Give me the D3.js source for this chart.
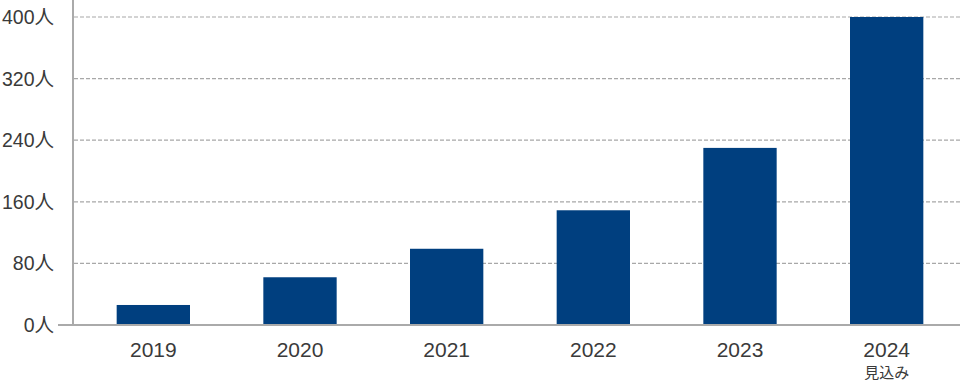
<!DOCTYPE html>
<html>
<head>
<meta charset="utf-8">
<script src="https://cdn.jsdelivr.net/npm/d3@7"></script>
<style>
  body { margin: 0; background: #fff; }
  svg { display: block; font-family: "Liberation Sans", Arial, "Noto Sans CJK JP", sans-serif; }
</style>
</head>
<body>
<svg id="svg" width="960" height="382"></svg>
<script>
const years = ['2019', '2020', '2021', '2022', '2023', '2024'];
const people = [26, 62, 99, 149, 230, 400];
const subLabels = ['', '', '', '', '', '見込み'];
const yTicks = [0, 80, 160, 240, 320, 400];

const svg = d3.select('#svg');
const plot = {left: 73, right: 960, top: 17, bottom: 325};

const yScale = d3.scaleLinear()
                .domain([0, 400])
                .range([plot.bottom, plot.top]);
const xScale = d3.scaleBand()
                .domain(years)
                .range([80, 960])
                .paddingInner(0.5)
                .paddingOuter(0.25);

// grid lines
svg.append('g')
    .selectAll('line')
    .data(yTicks.filter(d => d > 0))
    .enter()
    .append('line')
    .attr('x1', plot.left + 1)
    .attr('x2', plot.right)
    .attr('y1', d => yScale(d))
    .attr('y2', d => yScale(d))
    .attr('stroke', '#a8a8a8')
    .attr('stroke-width', 1.2)
    .attr('stroke-dasharray', '4,2');

// bars
svg.append('g')
    .selectAll('rect')
    .data(years)
    .enter()
    .append('rect')
    .attr('x', d => xScale(d))
    .attr('width', xScale.bandwidth())
    .attr('y', (d, i) => yScale(people[i]))
    .attr('height', (d, i) => plot.bottom - yScale(people[i]))
    .attr('fill', '#003f7f');

// axes lines
svg.append('line')
    .attr('x1', plot.left).attr('x2', plot.left)
    .attr('y1', 0).attr('y2', plot.bottom)
    .attr('stroke', '#aaa').attr('stroke-width', 2);
svg.append('line')
    .attr('x1', 58).attr('x2', plot.right)
    .attr('y1', plot.bottom).attr('y2', plot.bottom)
    .attr('stroke', '#aaa').attr('stroke-width', 2);

// y labels
svg.append('g')
    .selectAll('text')
    .data(yTicks)
    .enter()
    .append('text')
    .attr('x', 54)
    .attr('y', d => yScale(d) + 7)
    .attr('text-anchor', 'end')
    .attr('font-size', 19.5)
    .attr('fill', '#3a3a3a')
    .text(d => d + '人');

// x labels
const xl = svg.append('g');
xl.selectAll('.year')
    .data(years)
    .enter()
    .append('text')
    .attr('class', 'year')
    .attr('x', d => xScale(d) + xScale.bandwidth() / 2)
    .attr('y', 357)
    .attr('text-anchor', 'middle')
    .attr('font-size', 21)
    .attr('fill', '#3a3a3a')
    .text(d => d);
xl.selectAll('.sub')
    .data(years)
    .enter()
    .append('text')
    .attr('class', 'sub')
    .attr('x', d => xScale(d) + xScale.bandwidth() / 2)
    .attr('y', 378)
    .attr('text-anchor', 'middle')
    .attr('font-size', 15)
    .attr('fill', '#3a3a3a')
    .text((d, i) => subLabels[i]);
</script>
</body>
</html>
